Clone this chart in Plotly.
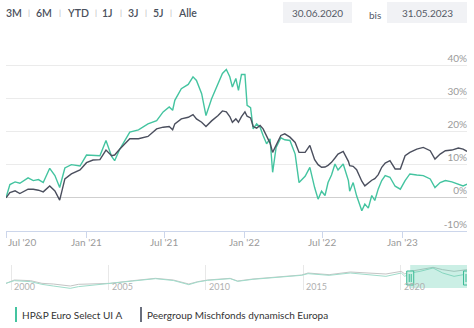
import plotly.graph_objects as go

W, H = 474, 328

# ---------------- data ----------------
dates = [
    "2020-06-30", "2020-07-09", "2020-07-21", "2020-08-01", "2020-08-20", "2020-09-01",
    "2020-09-13", "2020-09-24", "2020-10-09", "2020-10-21", "2020-11-01", "2020-11-13",
    "2020-11-28", "2020-12-18", "2021-01-02", "2021-01-17", "2021-02-02", "2021-02-16",
    "2021-03-01", "2021-03-08", "2021-03-20", "2021-04-12", "2021-05-02", "2021-05-24",
    "2021-06-13", "2021-06-28", "2021-07-12", "2021-07-20", "2021-07-25", "2021-08-09",
    "2021-08-25", "2021-09-05", "2021-09-13", "2021-09-25", "2021-10-05", "2021-10-18",
    "2021-11-02", "2021-11-12", "2021-11-21", "2021-11-29", "2021-12-05", "2021-12-13",
    "2021-12-19", "2021-12-26", "2022-01-03", "2022-01-08", "2022-01-16", "2022-01-22",
    "2022-01-30", "2022-02-07", "2022-02-14", "2022-02-22", "2022-03-02", "2022-03-08",
    "2022-03-16", "2022-03-27", "2022-04-05", "2022-04-17", "2022-04-29", "2022-05-08",
    "2022-05-22", "2022-06-02", "2022-06-13", "2022-06-21", "2022-06-29", "2022-07-07",
    "2022-07-14", "2022-07-22", "2022-07-30", "2022-08-06", "2022-08-18", "2022-08-30",
    "2022-09-02", "2022-09-10", "2022-09-18", "2022-09-30", "2022-10-07", "2022-10-15",
    "2022-10-23", "2022-10-30", "2022-11-07", "2022-11-15", "2022-11-23", "2022-12-04",
    "2022-12-16", "2022-12-28", "2023-01-08", "2023-01-19", "2023-02-04", "2023-02-19",
    "2023-03-07", "2023-03-18", "2023-03-30", "2023-04-11", "2023-04-26", "2023-05-11",
    "2023-05-22", "2023-05-31",
]
fund = [
    0.0, 4.0, 4.8, 4.4, 6.0, 5.2,
    5.5, 4.6, 8.9, 6.7, 3.1, 9.0,
    10.0, 9.6, 12.9, 12.7, 12.7, 17.3,
    12.5, 11.2, 14.7, 19.8, 20.5, 22.3,
    23.3, 25.9, 27.4, 26.4, 29.4, 32.9,
    34.2, 36.5, 35.4, 31.4, 24.8, 29.9,
    34.4, 37.5, 38.7, 36.5, 33.4, 36.0,
    32.4, 37.2, 37.2, 27.9, 27.2, 20.8,
    22.3, 21.3, 18.8, 16.3, 17.8, 7.7,
    15.2, 18.1, 17.5, 17.3, 13.2, 4.6,
    6.5, 9.2, 3.1, -0.4, 2.0, 0.7,
    4.6, 6.9, 10.2, 8.4, 10.2, 5.2,
    2.0, 4.6, 0.6, -3.9, -1.9, -3.1,
    0.7, -0.8, 2.7, 5.2, 6.7, 6.2,
    3.5, 2.6, 5.2, 7.2, 6.9, 6.7,
    5.7, 3.1, 4.6, 5.2, 4.8, 4.1,
    3.6, 4.1,
]
peer = [
    0.0, 1.6, 2.1, 1.3, 2.6, 2.6,
    2.3, 1.8, 3.6, 2.1, -0.7, 5.7,
    7.2, 8.4, 10.6, 11.4, 11.5, 14.4,
    12.7, 12.9, 14.7, 17.8, 17.8, 18.5,
    20.8, 21.3, 21.5, 20.5, 22.3, 23.8,
    24.3, 25.1, 23.8, 22.8, 21.5, 23.2,
    24.8, 26.2, 25.9, 24.5, 22.8, 23.8,
    22.8, 24.5, 25.9, 24.6, 24.1, 21.5,
    21.0, 21.8, 20.8, 18.8, 16.5, 13.7,
    15.8, 18.8, 19.3, 18.3, 16.7, 13.7,
    13.7, 15.8, 11.5, 10.0, 9.2, 9.3,
    9.8, 10.7, 12.0, 13.2, 14.0, 11.0,
    9.7, 9.5, 8.5, 5.0, 3.6, 4.5,
    5.3, 5.8, 7.0, 9.2, 10.5, 11.2,
    8.7, 8.7, 12.7, 13.7, 14.7, 15.2,
    14.2, 11.7, 13.2, 14.2, 14.4, 15.0,
    14.7, 14.0,
]

# navigator (long history, index)
nav_dates = [
    "1999-09-27", "2000-03-01", "2001-01-01", "2001-08-01", "2002-03-01", "2003-01-15",
    "2003-06-15", "2004-08-01", "2005-02-01", "2006-04-01", "2007-06-01", "2008-05-01",
    "2009-02-15", "2009-08-01", "2010-02-01", "2011-04-01", "2011-08-20", "2012-06-01",
    "2013-12-01", "2014-12-01", "2015-04-01", "2016-05-01", "2017-06-01", "2018-10-01",
    "2019-04-01", "2020-01-15", "2020-03-20", "2020-06-30", "2021-01-01", "2021-09-01",
    "2022-03-01", "2022-09-30", "2023-05-31",
]
nav_peer = [
    100, 120, 116, 100, 96, 84,
    94, 100, 100, 116, 130, 120,
    96, 110, 120, 130, 114, 126,
    140, 150, 162, 152, 168, 162,
    156, 172, 156, 172, 182, 196,
    182, 172, 182,
]
nav_fund = [
    100, 116, 110, 94, 84, 70,
    80, 94, 96, 112, 128, 117,
    92, 108, 118, 128, 112, 124,
    138, 148, 158, 148, 162, 148,
    142, 162, 142, 162, 172, 192,
    162, 142, 156,
]

series_names = ["HP&P Euro Select UI A", "Peergroup Mischfonds dynamisch Europa"]
y_ticks = [-10, 0, 10, 20, 30, 40, 50]
y_labels = ["-10%", "0%", "10%", "20%", "30%", "40%", ""]
x_tick_dates = ["2020-07-01", "2021-01-01", "2021-07-01", "2022-01-01", "2022-07-01", "2023-01-01"]
x_tick_labels = ["Jul '20", "Jan '21", "Jul '21", "Jan '22", "Jul '22", "Jan '23"]
nav_tick_dates = ["2000-01-01", "2005-01-01", "2010-01-01", "2015-01-01", "2020-01-01"]
nav_tick_labels = ["2000", "2005", "2010", "2015", "2020"]
range_buttons = ["3M", "6M", "YTD", "1J", "3J", "5J", "Alle"]
date_from, date_to = "30.06.2020", "31.05.2023"

TEAL = "#44c4a0"
DARK = "#4b4f5e"
FONT = "Lato"

def px_x(p):
    return p / W

def px_y(p):
    return 1 - p / H

fig = go.Figure()
fig.add_trace(go.Scatter(x=dates, y=fund, mode="lines", line=dict(color=TEAL, width=1.4),
                         name=series_names[0], xaxis="x", yaxis="y", hoverinfo="skip"))
fig.add_trace(go.Scatter(x=dates, y=peer, mode="lines", line=dict(color=DARK, width=1.4),
                         name=series_names[1], xaxis="x", yaxis="y", hoverinfo="skip"))
fig.add_trace(go.Scatter(x=nav_dates, y=nav_peer, mode="lines", line=dict(color="#c4c4c4", width=1),
                         xaxis="x2", yaxis="y2", hoverinfo="skip"))
fig.add_trace(go.Scatter(x=nav_dates, y=nav_fund, mode="lines", line=dict(color="#9fdcca", width=1),
                         xaxis="x2", yaxis="y2", hoverinfo="skip"))

xdom = [px_x(6), px_x(467)]
fig.update_layout(
    width=W, height=H,
    margin=dict(l=0, r=0, t=0, b=0),
    paper_bgcolor="white", plot_bgcolor="white",
    showlegend=False,
    font=dict(family=FONT, color="#999999", size=10),
    xaxis=dict(domain=xdom, range=[dates[0], dates[-1]], type="date",
               tickmode="array", tickvals=x_tick_dates, showticklabels=False,
               ticks="outside", ticklen=6, tickcolor="#ccd6eb", tickwidth=1,
               showline=True, linecolor="#ccd6eb", linewidth=1,
               showgrid=False, zeroline=False, fixedrange=True, automargin=False),
    yaxis=dict(domain=[px_y(231), px_y(32)], range=[-10, 50], side="right",
               tickmode="array", tickvals=y_ticks, ticktext=y_labels,
               ticklabelposition="inside top", ticks="", ticklabelstandoff=-3,
               tickfont=dict(size=10, color="#9a9a9a", family=FONT),
               showgrid=True, gridcolor="#ebebeb", gridwidth=1,
               zeroline=True, zerolinecolor="#cfcfcf", zerolinewidth=1,
               showline=False, fixedrange=True, automargin=False),
    xaxis2=dict(domain=xdom, anchor="y2", range=[nav_dates[0], nav_dates[-1]], type="date",
                tickmode="array", tickvals=nav_tick_dates, showticklabels=False, ticks="",
                showgrid=True, gridcolor="#e8e8e8", showline=False, zeroline=False,
                fixedrange=True, automargin=False),
    yaxis2=dict(domain=[px_y(290), px_y(265)], range=[60, 210], visible=False,
                fixedrange=True, automargin=False),
)

shapes = []
# navigator selection
shapes.append(dict(type="rect", xref="x2", yref="y2 domain", x0=dates[0], x1=dates[-1],
                   y0=0.08, y1=1, fillcolor="rgba(68,196,160,0.28)", line=dict(width=0),
                   layer="above"))
for d in [dates[0], dates[-1]]:
    shapes.append(dict(type="rect", xref="x2", yref="paper", xsizemode="pixel", xanchor=d,
                       x0=-3.5, x1=3.5, y0=px_y(285), y1=px_y(271),
                       fillcolor="#c9efe3", line=dict(color="#3dbb97", width=1), layer="above"))
    for off in (-1, 1):
        shapes.append(dict(type="line", xref="x2", yref="paper", xsizemode="pixel", xanchor=d,
                           x0=off, x1=off, y0=px_y(282), y1=px_y(274),
                           line=dict(color="#3dbb97", width=1), layer="above"))
# date boxes
shapes.append(dict(type="rect", xref="paper", yref="paper", x0=px_x(283), x1=px_x(352),
                   y0=px_y(23), y1=px_y(2), fillcolor="#f1f2f5", line=dict(width=0)))
shapes.append(dict(type="rect", xref="paper", yref="paper", x0=px_x(387), x1=px_x(467),
                   y0=px_y(23), y1=px_y(2), fillcolor="#f1f2f5", line=dict(width=0)))
# legend bars
shapes.append(dict(type="line", xref="paper", yref="paper", x0=px_x(16), x1=px_x(16),
                   y0=px_y(322), y1=px_y(307), line=dict(color=TEAL, width=2)))
shapes.append(dict(type="line", xref="paper", yref="paper", x0=px_x(141), x1=px_x(141),
                   y0=px_y(322), y1=px_y(307), line=dict(color="#6a6f7d", width=2)))

ann = []
# x tick labels
for i, (d, t) in enumerate(zip(x_tick_dates, x_tick_labels)):
    ann.append(dict(x=d, y=px_y(242), xref="x", yref="paper", text=t, showarrow=False,
                    xanchor="left" if i == 0 else "center", yanchor="middle",
                    font=dict(size=10, color="#9a9a9a", family=FONT)))
# navigator labels
for d, t in zip(nav_tick_dates, nav_tick_labels):
    ann.append(dict(x=d, y=px_y(286), xref="x2", yref="paper", text=t, showarrow=False,
                    xanchor="left", yanchor="middle", xshift=1,
                    font=dict(size=9, color="#b0b0b0", family=FONT)))
# range buttons
btn_x = [14, 43.5, 77.5, 107, 133, 158, 187]
sep_x = [29, 60, 96, 121, 146, 171]
for b, xx in zip(range_buttons, btn_x):
    ann.append(dict(x=px_x(xx), y=px_y(13), xref="paper", yref="paper", text=b, showarrow=False,
                    xanchor="center", yanchor="middle",
                    font=dict(size=10.5, color="#4a505c", family=FONT, weight=600)))
for xx in sep_x:
    ann.append(dict(x=px_x(xx), y=px_y(13), xref="paper", yref="paper", text="|", showarrow=False,
                    xanchor="center", yanchor="middle",
                    font=dict(size=8, color="#b8b8b8", family=FONT)))
# date texts
ann.append(dict(x=px_x(317.5), y=px_y(13), xref="paper", yref="paper", text=date_from, showarrow=False,
                xanchor="center", yanchor="middle", font=dict(size=10, color="#555a66", family=FONT)))
ann.append(dict(x=px_x(375), y=px_y(15), xref="paper", yref="paper", text="bis", showarrow=False,
                xanchor="center", yanchor="middle", font=dict(size=10, color="#555a66", family=FONT)))
ann.append(dict(x=px_x(427), y=px_y(13), xref="paper", yref="paper", text=date_to, showarrow=False,
                xanchor="center", yanchor="middle", font=dict(size=10, color="#555a66", family=FONT)))
# legend texts
ann.append(dict(x=px_x(20), y=px_y(315), xref="paper", yref="paper", text=series_names[0], showarrow=False,
                xanchor="left", yanchor="middle", font=dict(size=10, color="#333333", family=FONT)))
ann.append(dict(x=px_x(145), y=px_y(315), xref="paper", yref="paper", text=series_names[1], showarrow=False,
                xanchor="left", yanchor="middle", font=dict(size=10, color="#333333", family=FONT)))

fig.update_layout(shapes=shapes, annotations=ann)
fig.write_html("out.html", config={"displayModeBar": False})
